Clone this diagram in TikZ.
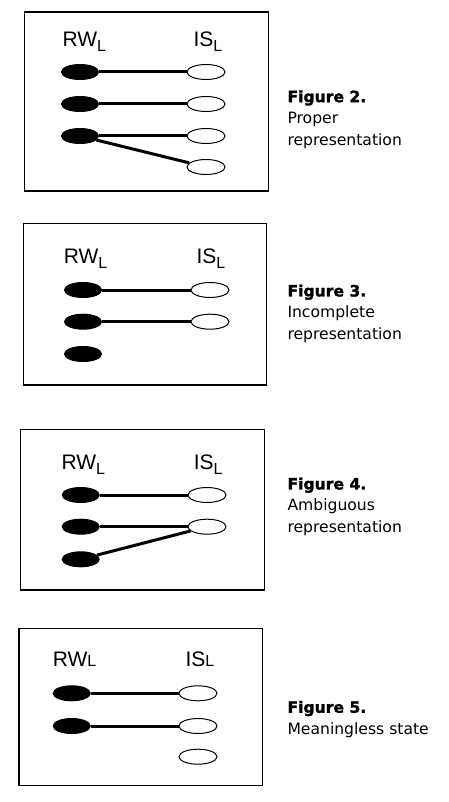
\documentclass[tikz,border=0pt]{standalone}
\usepackage{fontspec}
\setmainfont{Liberation Sans}
\newfontfamily\capfont{DejaVu Sans}[BoldFeatures={FakeBold=1.6}]
\usetikzlibrary{shapes.geometric}
\newcommand{\lowL}{\raisebox{-5pt}{\fontsize{16}{16}\selectfont L}}
\newcommand{\flatL}{{\fontsize{16}{16}\selectfont L}}

\begin{document}
\begin{tikzpicture}[x=1pt, y=-1pt, line width=1pt,
    rw/.style={ellipse, draw, fill=black, minimum width=37pt, minimum height=15pt, inner sep=0pt},
    is/.style={ellipse, draw, fill=white, minimum width=38pt, minimum height=15pt, inner sep=0pt},
    link/.style={line width=3pt},
    frame/.style={line width=1.3pt},
    lbl/.style={anchor=base west, inner sep=0pt, font=\fontsize{21}{21}\selectfont},
    capt/.style={anchor=north west, inner sep=0pt, align=left, font=\capfont\fontsize{15.6}{21.5}\selectfont}]
   \useasboundingbox (0,0) rectangle (449,802);

   \draw[frame] (24.3,12) rectangle (268.3,191);
   \node[lbl] (rwA) at (62,46.7) {RW\lowL};
   \node[lbl] (isA) at (193,46.7) {IS\lowL};
   \node[rw] (rA1) at (80,72) {};
   \node[rw] (rA2) at (80,104) {};
   \node[rw] (rA3) at (80,136) {};
   \node[is] (iA1) at (206,72) {};
   \node[is] (iA2) at (206,104) {};
   \node[is] (iA3) at (206,136) {};
   \node[is] (iA4) at (206,167) {};
   \draw[link] (rA1) -- (iA1);
   \draw[link] (rA2) -- (iA2);
   \draw[link] (rA3) -- (iA3);
   \draw[link] (rA3) -- (iA4);
   \node[capt] (capA) at (287,89.8) {\bfseries Figure 2.\\Proper\\representation};

   \draw[frame] (23.3,223.3) rectangle (266.7,385);
   \node[lbl] (rwB) at (63.3,263.3) {RW\lowL};
   \node[lbl] (isB) at (196,263.3) {IS\lowL};
   \node[rw] (rB1) at (83,290) {};
   \node[rw] (rB2) at (83,321.7) {};
   \node[rw] (rB3) at (83,354) {};
   \node[is] (iB1) at (210,290) {};
   \node[is] (iB2) at (210,321.7) {};
   \draw[link] (rB1) -- (iB1);
   \draw[link] (rB2) -- (iB2);
   \node[capt] (capB) at (287,284.1) {\bfseries Figure 3.\\Incomplete\\representation};

   \draw[frame] (20.7,429.3) rectangle (264.3,590);
   \node[lbl] (rwC) at (61,469.3) {RW\lowL};
   \node[lbl] (isC) at (193.3,469.3) {IS\lowL};
   \node[rw] (rC1) at (80.7,495) {};
   \node[rw] (rC2) at (80.7,526.7) {};
   \node[rw] (rC3) at (80.7,559.3) {};
   \node[is] (iC1) at (207,495) {};
   \node[is] (iC2) at (207,526.7) {};
   \draw[link] (rC1) -- (iC1);
   \draw[link] (rC2) -- (iC2);
   \draw[link] (rC3) -- (iC2);
   \node[capt] (capC) at (287,477.1) {\bfseries Figure 4.\\Ambiguous\\representation};

   \draw[frame] (19,628.3) rectangle (262.7,785.7);
   \node[lbl] (rwD) at (52.3,666.7) {RW\flatL};
   \node[lbl] (isD) at (185,666.7) {IS\flatL};
   \node[rw] (rD1) at (71.7,693.3) {};
   \node[rw] (rD2) at (71.7,726) {};
   \node[is] (iD1) at (198,693.3) {};
   \node[is] (iD2) at (198,726) {};
   \node[is] (iD3) at (198,756.7) {};
   \draw[link] (rD1) -- (iD1);
   \draw[link] (rD2) -- (iD2);
   \node[capt] (capD) at (287,700.4) {\bfseries Figure 5.\\Meaningless state};
\end{tikzpicture}
\end{document}
